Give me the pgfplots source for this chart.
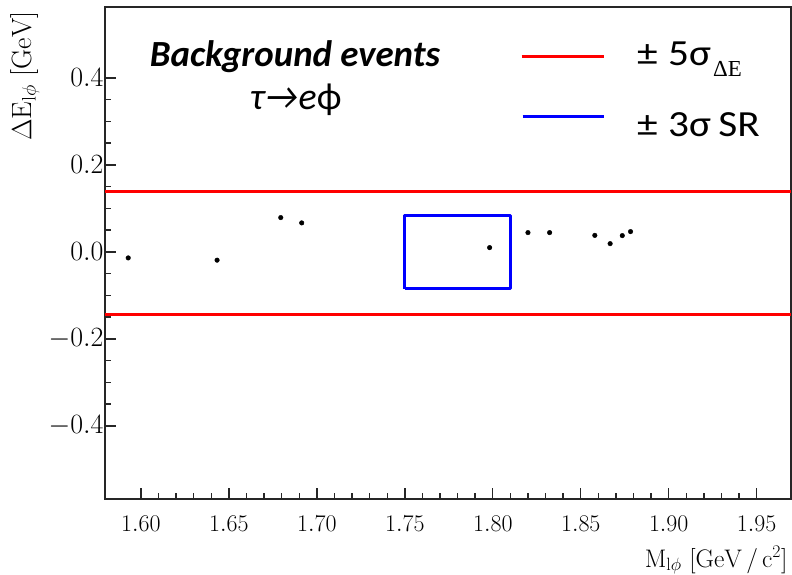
\RequirePackage{fix-cm}
\documentclass[border=0pt]{standalone}
\usepackage{graphicx}
\usepackage{fontspec}
\usepackage{pgfplots}
\pgfplotsset{compat=1.18}
\newfontfamily\carlito{Carlito}
\newfontfamily\serifsub{Liberation Serif}
\begin{document}
\begin{tikzpicture}
\begin{axis}[
  scale only axis,
  width=686bp, height=492bp,
  xmin=1.5796, xmax=1.9695,
  ymin=-0.568, ymax=0.563,
  xtick={1.60,1.65,1.70,1.75,1.80,1.85,1.90,1.95},
  ytick={-0.4,-0.2,0,0.2,0.4},
  minor x tick num=4,
  minor y tick num=3,
  tick pos=left,
  tick align=inside,
  major tick length=11bp,
  minor tick length=6bp,
  every tick/.style={black!85, line width=1.4bp},
  axis line style={black!85, line width=1.8bp},
  xticklabel style={font=\fontsize{24}{28}\selectfont, yshift=-14bp, /pgf/number format/.cd, fixed, fixed zerofill, precision=2},
  yticklabel style={font=\fontsize{28}{32}\selectfont, xshift=2bp, /pgf/number format/.cd, fixed, fixed zerofill, precision=1},
  xlabel={$\mathrm{M}_{\mathrm{l}\phi}$ [$\mathrm{GeV}\,/\,\mathrm{c}^2$]},
  ylabel={$\Delta\mathrm{E}_{\mathrm{l}\phi}$ [$\mathrm{GeV}$]},
  xlabel style={font=\fontsize{25.5}{30}\selectfont, at={(axis description cs:1,0)}, anchor=base east, yshift=-68bp},
  ylabel style={font=\fontsize{28}{32}\selectfont, at={(axis description cs:0,1)}, anchor=south east, xshift=-1bp, yshift=62bp},
  legend style={draw=none, fill=none, inner sep=0pt, outer sep=0pt,
    at={(rel axis cs:0.605,0.9289)}, anchor=north west,
    font=\carlito\fontsize{37}{42}\selectfont,
    row sep=38.5bp,
    cells={anchor=base west},
    nodes={inner sep=0pt, text height=24bp, text depth=8bp}},
  legend cell align=left,
]
\addplot[red, line width=3bp, legend image code/.code={\draw[red, line width=3bp] (0bp,1bp) -- (82bp,1bp); \path (114bp,0bp);}] coordinates {(1.5796,0.139) (1.9695,0.139)};
\addlegendentry{\scalebox{1.12}[1]{±\hspace{9.5bp}5σ}\hspace{2bp}\raisebox{-10.5bp}{\serifsub\fontsize{23}{25}\selectfont ΔE}}
\addplot[red, line width=3bp, forget plot] coordinates {(1.5796,-0.143) (1.9695,-0.143)};
\addplot[blue, line width=3bp, line join=round, legend image code/.code={\draw[blue, line width=3bp] (1bp,11.5bp) -- (82bp,11.5bp); \path (114bp,0bp);}] coordinates {(1.75,-0.085) (1.81,-0.085) (1.81,0.083) (1.75,0.083) (1.75,-0.085)};
\addlegendentry{\scalebox{1.12}[1]{±\hspace{9.5bp}3σ\hspace{6.5bp}SR}}
\addplot[only marks, mark=*, mark size=2.3bp, black, forget plot] coordinates {
(1.5928,-0.0138) (1.6433,-0.0190) (1.6795,0.0789) (1.6914,0.0667)
(1.7982,0.0099) (1.8200,0.0444) (1.8323,0.0444) (1.8580,0.0380)
(1.8667,0.0190) (1.8736,0.0375) (1.8783,0.0467)};
\node[anchor=base, font=\carlito\bfseries\itshape\fontsize{37}{42}\selectfont] at (rel axis cs:0.277,0.880) {Background events};
\node[anchor=base, font=\carlito\itshape\fontsize{38}{42}\selectfont] at (rel axis cs:0.278,0.7907) {τ→e{\upshape ϕ}};
\end{axis}
\pgfresetboundingbox
\path[use as bounding box] (-105bp,-76bp) rectangle (687bp,499bp);
\end{tikzpicture}
\end{document}
